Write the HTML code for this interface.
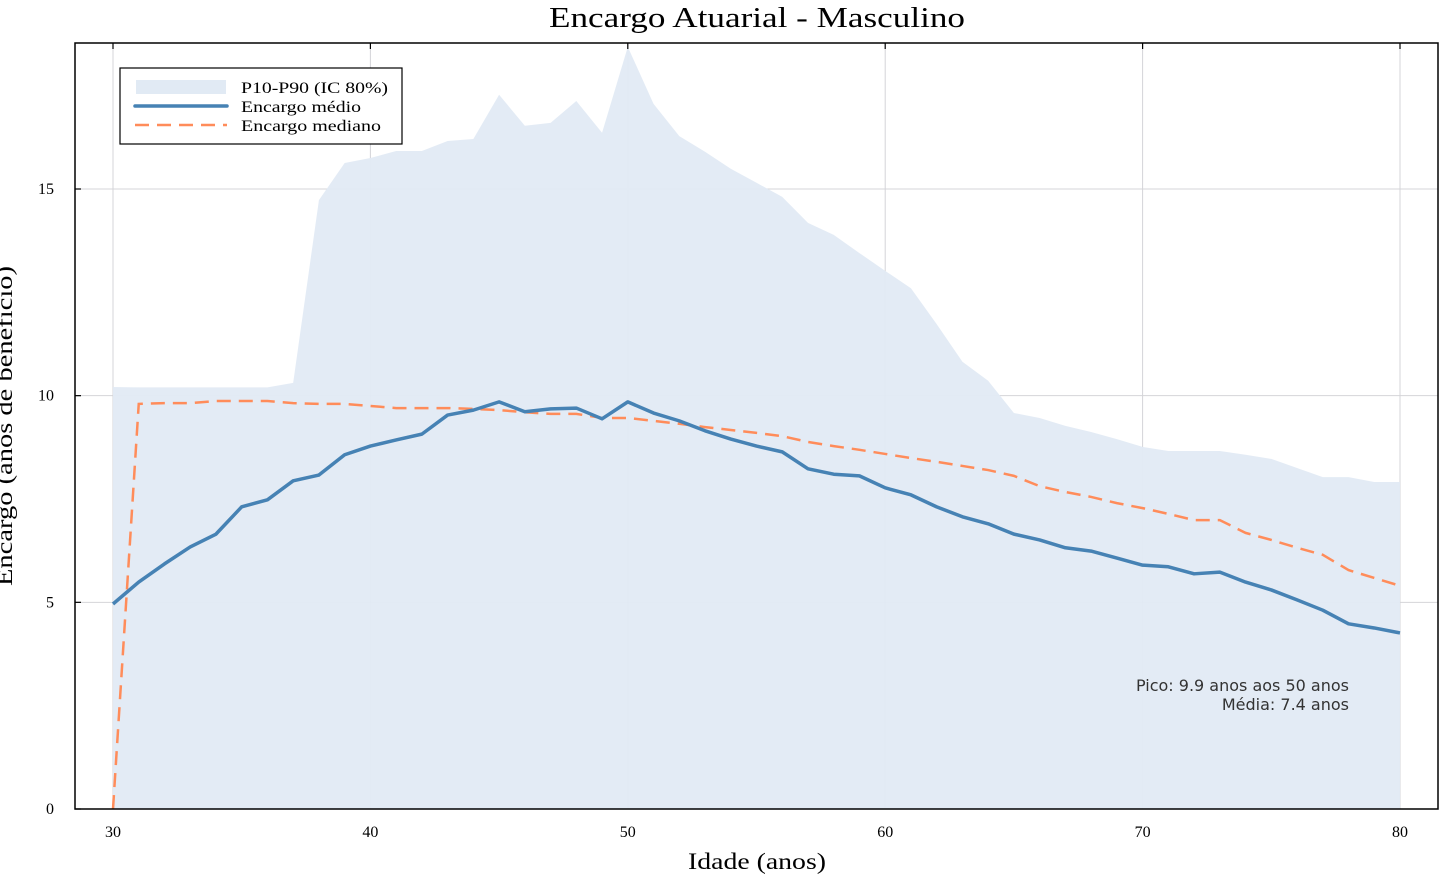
<!DOCTYPE html>
<html><head><meta charset="utf-8"><style>
html,body{margin:0;padding:0;background:#fff;}
svg{display:block;font-family:"Liberation Serif",serif;}
</style></head><body>
<svg id="chart" width="1456" height="874" viewBox="0 0 1456 874" xmlns="http://www.w3.org/2000/svg">
<text x="549" y="27" font-size="29" textLength="416" lengthAdjust="spacingAndGlyphs">Encargo Atuarial - Masculino</text>
<g id="grid"></g>
<g id="band"></g>
<g id="lines"></g>
<rect x="75" y="43" width="1363" height="766" fill="none" stroke="#000" stroke-width="1.5"/>
<g id="ticks"></g>
<text x="688" y="869" font-size="23" textLength="138" lengthAdjust="spacingAndGlyphs">Idade (anos)</text>
<text transform="translate(12,426) rotate(-90)" text-anchor="middle" font-size="23" textLength="320" lengthAdjust="spacingAndGlyphs">Encargo (anos de benefício)</text>
<g>
<rect x="120" y="68" width="282" height="76" fill="#fff" stroke="#000" stroke-width="1.2"/>
<rect x="136" y="80" width="90" height="14" fill="#e1eaf4"/>
<text x="241" y="93" font-size="16" textLength="147" lengthAdjust="spacingAndGlyphs">P10-P90 (IC 80%)</text>
<line x1="135" y1="106" x2="227" y2="106" stroke="#4682b4" stroke-width="3.5" stroke-linecap="round"/>
<text x="241" y="112" font-size="16" textLength="120" lengthAdjust="spacingAndGlyphs">Encargo médio</text>
<line x1="135" y1="125" x2="227" y2="125" stroke="#ff8c5a" stroke-width="2.5" stroke-dasharray="14,8"/>
<text x="241" y="131" font-size="16" textLength="140" lengthAdjust="spacingAndGlyphs">Encargo mediano</text>
</g>
<g font-family="'DejaVu Sans',sans-serif" font-size="16" fill="#333">
<text x="1349" y="691" text-anchor="end">Pico: 9.9 anos aos 50 anos</text>
<text x="1349" y="710" text-anchor="end">Média: 7.4 anos</text>
</g>
</svg>
<script>
const ages = [30,31,32,33,34,35,36,37,38,39,40,41,42,43,44,45,46,47,48,49,50,51,52,53,54,55,56,57,58,59,60,61,62,63,64,65,66,67,68,69,70,71,72,73,74,75,76,77,78,79,80];
const p90 = [10.21,10.2,10.2,10.2,10.2,10.2,10.2,10.31,14.73,15.63,15.75,15.92,15.92,16.16,16.21,17.28,16.53,16.6,17.13,16.36,18.44,17.06,16.28,15.9,15.49,15.15,14.81,14.18,13.89,13.45,13.02,12.6,11.73,10.82,10.36,9.58,9.46,9.27,9.12,8.95,8.76,8.66,8.66,8.66,8.57,8.47,8.25,8.03,8.03,7.91,7.91];
const p10 = ages.map(()=>0);
const meanVals = [4.96,5.49,5.93,6.34,6.65,7.31,7.48,7.94,8.08,8.57,8.78,8.93,9.07,9.53,9.65,9.85,9.61,9.68,9.70,9.44,9.85,9.58,9.39,9.15,8.95,8.78,8.64,8.23,8.1,8.06,7.77,7.6,7.31,7.07,6.9,6.65,6.51,6.32,6.24,6.07,5.9,5.86,5.69,5.73,5.49,5.3,5.06,4.81,4.48,4.38,4.26];
const medianVals = [0,9.8,9.82,9.82,9.87,9.87,9.87,9.82,9.8,9.8,9.75,9.7,9.7,9.7,9.68,9.65,9.6,9.56,9.56,9.46,9.46,9.39,9.32,9.24,9.17,9.1,9.02,8.88,8.78,8.69,8.59,8.49,8.4,8.3,8.2,8.06,7.81,7.67,7.55,7.4,7.28,7.14,6.99,6.99,6.68,6.51,6.32,6.15,5.78,5.59,5.4];
const xTicks = [30,40,50,60,70,80];
const yTicks = [0,5,10,15];

const NS="http://www.w3.org/2000/svg";
const X = v => 113 + (v-30)*(1400-113)/50;
const Y = v => 809 - v*(809-189)/15;
function mk(tag, attrs, parent){const e=document.createElementNS(NS,tag);for(const k in attrs)e.setAttribute(k,attrs[k]);parent.appendChild(e);return e;}
const grid=document.getElementById('grid'), ticks=document.getElementById('ticks');
xTicks.forEach(t=>{
  const g=mk('line',{x1:X(t),x2:X(t),y1:43,y2:809,stroke:'#d4d4d8','stroke-width':1},grid);
  
  
  const tk=mk('line',{x1:X(t),x2:X(t),y1:43,y2:49,stroke:'#000','stroke-width':1.2},ticks);
  
  
  const lb=mk('text',{x:X(t),y:837,'text-anchor':'middle','font-size':16},ticks);
  lb.textContent=t;
  
  
});
yTicks.forEach(t=>{
  const g=mk('line',{x1:75,x2:1438,y1:Y(t),y2:Y(t),stroke:'#d4d4d8','stroke-width':1},grid);
  
  
  const tk=mk('line',{x1:75,x2:81,y1:Y(t),y2:Y(t),stroke:'#000','stroke-width':1.2},ticks);
  
  
  const lb=mk('text',{x:54,y:Y(t)+5,'text-anchor':'end','font-size':16},ticks);
  lb.textContent=t;
  
  
});
let d=ages.map((a,i)=>(i?'L':'M')+X(a)+','+Y(p90[i])).join(' ');
for(let i=ages.length-1;i>=0;i--) d+=' L'+X(ages[i])+','+Y(p10[i]);
const band=mk('path',{d:d+'Z',fill:'#e1eaf4',opacity:0.95},document.getElementById('band'));


const lines=document.getElementById('lines');
const med=mk('polyline',{points:ages.map((a,i)=>X(a)+','+Y(medianVals[i])).join(' '),fill:'none',stroke:'#ff8c5a','stroke-width':2.5,'stroke-dasharray':'14,8'},lines);


const mean=mk('polyline',{points:ages.map((a,i)=>X(a)+','+Y(meanVals[i])).join(' '),fill:'none',stroke:'#4682b4','stroke-width':3.5,'stroke-linejoin':'round'},lines);


</script>
</body></html>
